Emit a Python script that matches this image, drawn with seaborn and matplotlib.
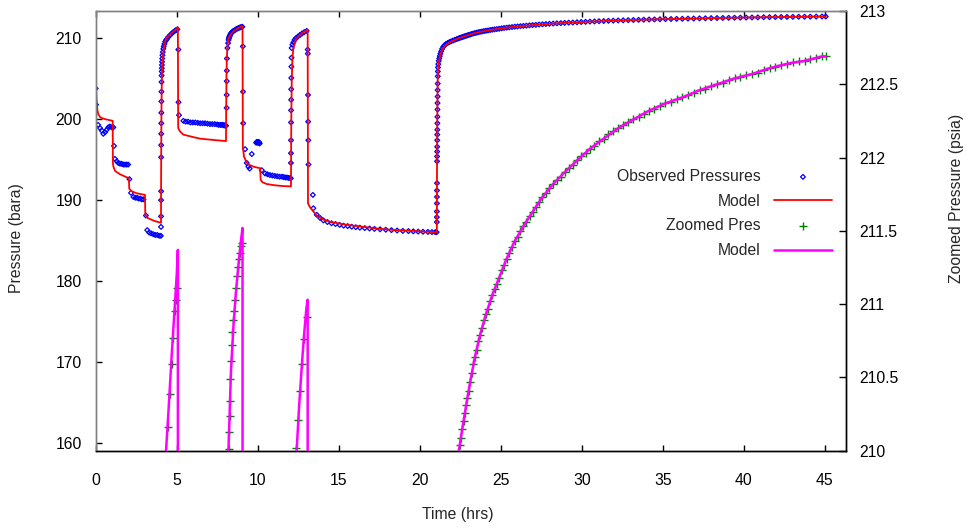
"""
Well test pressure history with zoomed late-time view
"""

import matplotlib
matplotlib.use("Agg")
import matplotlib.pyplot as plt
import seaborn as sns

sns.set_theme(style="ticks")
plt.rcParams["font.family"] = ["Liberation Sans", "DejaVu Sans"]

# ============================================================
# DATA
# ============================================================

# Observed pressures, one pair of lists per flow / shut-in period
obs_t1 = [0.00, 0.02, 0.15, 0.27, 0.37, 0.47, 0.58, 0.68, 0.78, 0.88,
          0.99, 1.09, 1.13, 1.19, 1.30, 1.40, 1.50, 1.60, 1.70, 1.80,
          1.90, 2.00, 2.08, 2.18, 2.33, 2.45, 2.55, 2.65, 2.75, 2.85,
          2.95, 3.10, 3.18, 3.30, 3.42, 3.55, 3.68, 3.80, 3.92, 4.02]
obs_p1 = [203.8, 201.8, 199.3, 198.9, 198.6, 198.2, 198.4, 198.7, 199.0, 199.1,
          199.0, 199.0, 196.7, 195.1, 194.8, 194.6, 194.5, 194.5, 194.4, 194.4,
          194.4, 194.4, 192.6, 190.9, 190.4, 190.3, 190.3, 190.2, 190.2, 190.1,
          190.1, 188.1, 186.3, 186.0, 185.9, 185.8, 185.7, 185.7, 185.6, 185.6]

obs_t2 = [4.030, 4.032, 4.034, 4.036, 4.038, 4.040, 4.043, 4.046, 4.050, 4.054,
          4.058, 4.063, 4.068, 4.074, 4.080, 4.087, 4.095, 4.105, 4.12, 4.14,
          4.17, 4.20, 4.24, 4.29, 4.35, 4.41, 4.48, 4.59, 4.69, 4.79,
          4.90, 4.97, 5.04]
obs_p2 = [186.7, 188.0, 190.0, 191.1, 195.3, 196.8, 198.2, 199.5, 200.8, 202.2,
          203.4, 204.6, 205.4, 205.9, 206.3, 206.7, 207.1, 207.5, 207.9, 208.3,
          208.7, 209.0, 209.3, 209.6, 209.8, 209.95, 210.16, 210.39, 210.59, 210.77,
          210.95, 211.03, 211.11]

obs_t3 = [5.10, 5.11, 5.14, 5.41, 5.55, 5.70, 5.85, 6.00, 6.15, 6.30,
          6.45, 6.60, 6.75, 6.90, 7.05, 7.20, 7.35, 7.50, 7.60, 7.70,
          7.78, 7.85, 7.90, 7.95, 8.00, 8.04]
obs_p3 = [208.6, 202.1, 200.5, 199.8, 199.7, 199.7, 199.6, 199.6, 199.6, 199.55,
          199.5, 199.5, 199.5, 199.45, 199.4, 199.4, 199.4, 199.35, 199.3, 199.3,
          199.3, 199.3, 199.25, 199.25, 199.2, 199.2]

obs_t4 = [8.080, 8.084, 8.088, 8.092, 8.097, 8.13, 8.17, 8.20, 8.22, 8.24,
          8.26, 8.28, 8.31, 8.35, 8.39, 8.44, 8.49, 8.54, 8.60, 8.66,
          8.73, 8.80, 8.86, 8.92, 8.99, 9.05]
obs_p4 = [201.4, 203.0, 204.7, 206.0, 207.5, 208.8, 209.4, 209.8, 210.01, 210.13,
          210.24, 210.34, 210.49, 210.61, 210.72, 210.81, 210.89, 210.95, 211.03, 211.11,
          211.19, 211.25, 211.31, 211.35, 211.40, 211.42]

obs_t5 = [9.08, 9.09, 9.10, 9.22, 9.32, 9.42, 9.50, 9.63, 9.90, 9.94,
          9.97, 10.00, 10.03, 10.06, 10.09, 10.12, 10.25, 10.45, 10.60, 10.75,
          10.90, 11.05, 11.20, 11.35, 11.50, 11.60, 11.70, 11.80, 11.90, 12.00,
          12.04]
obs_p5 = [209.0, 203.4, 199.5, 196.3, 194.6, 194.15, 193.9, 195.7, 197.1, 197.2,
          197.1, 197.2, 197.1, 197.2, 197.1, 197.0, 193.7, 193.3, 193.2, 193.1,
          193.05, 193.0, 192.95, 192.9, 192.9, 192.85, 192.8, 192.8, 192.75, 192.75,
          192.7]

obs_t6 = [12.045, 12.048, 12.051, 12.054, 12.057, 12.061, 12.065, 12.070, 12.076, 12.083,
          12.09, 12.14, 12.20, 12.27, 12.36, 12.48, 12.60, 12.73, 12.87, 13.02]
obs_p6 = [194.6, 195.8, 197.4, 199.6, 201.1, 202.4, 203.7, 205.1, 206.5, 207.6,
          208.8, 209.2, 209.5, 209.8, 210.02, 210.21, 210.41, 210.59, 210.76, 210.91]

obs_t7 = [13.08, 13.09, 13.10, 13.11, 13.12, 13.13, 13.40, 13.43, 13.64, 13.85,
          14.05, 14.30, 14.55, 14.80, 15.05, 15.30, 15.55, 15.80, 16.05, 16.30,
          16.60, 16.90, 17.20, 17.55, 17.90, 18.25, 18.60, 18.95, 19.30, 19.60,
          19.90, 20.20, 20.50, 20.75, 20.95, 21.04]
obs_p7 = [208.6, 208.1, 203.0, 199.7, 197.4, 194.4, 190.65, 189.0, 188.2, 187.8,
          187.5, 187.3, 187.15, 187.05, 186.95, 186.85, 186.8, 186.72, 186.66, 186.6,
          186.55, 186.5, 186.45, 186.4, 186.35, 186.3, 186.25, 186.2, 186.18, 186.15,
          186.12, 186.1, 186.08, 186.06, 186.05, 186.05]

obs_t8 = [21.050, 21.052, 21.054, 21.056, 21.058, 21.060, 21.062, 21.064, 21.067, 21.070,
          21.073, 21.076, 21.079, 21.082, 21.085, 21.088, 21.091, 21.094, 21.098, 21.102,
          21.106, 21.110, 21.115, 21.12, 21.14, 21.17, 21.20, 21.23, 21.27, 21.32,
          21.38, 21.45, 21.53, 21.62, 21.72, 21.82, 21.93, 22.05, 22.17, 22.28,
          22.38]
obs_p8 = [187.3, 187.9, 188.6, 189.6, 190.4, 191.2, 192.1, 194.8, 195.4, 196.0,
          196.6, 197.4, 198.1, 198.7, 199.5, 200.3, 201.2, 202.0, 202.8, 203.6,
          204.4, 205.3, 205.9, 206.4, 206.8, 207.2, 207.5, 207.8, 208.1, 208.4,
          208.7, 208.95, 209.15, 209.3, 209.42, 209.52, 209.62, 209.72, 209.82, 209.90,
          209.98]

obs_t9 = [22.46, 22.54, 22.62, 22.70, 22.78, 22.86, 22.94, 23.02, 23.11, 23.20,
          23.30, 23.40, 23.50, 23.61, 23.72, 23.84, 23.96, 24.08, 24.21, 24.34,
          24.47, 24.61, 24.75, 24.90, 25.05, 25.20, 25.36, 25.52, 25.69, 25.86,
          26.03, 26.21, 26.39, 26.58, 26.77, 26.96, 27.16, 27.36, 27.57, 27.78,
          28.00, 28.23, 28.46, 28.70, 28.94, 29.19, 29.44, 29.70, 29.96, 30.23,
          30.50, 30.78, 31.06, 31.35, 31.64, 31.94, 32.24, 32.55, 32.86, 33.18,
          33.50, 33.82, 34.15, 34.48, 34.82, 35.16, 35.50, 35.85, 36.20, 36.55,
          36.90, 37.26, 37.62, 37.98, 38.34, 38.70, 39.06, 39.42, 39.78, 40.14,
          40.50, 40.86, 41.22, 41.58, 41.94, 42.30, 42.66, 43.02, 43.38, 43.74,
          44.10, 44.46, 44.82, 45.05]
obs_p9 = [210.04, 210.09, 210.15, 210.20, 210.26, 210.31, 210.36, 210.41, 210.47, 210.53,
          210.59, 210.64, 210.69, 210.75, 210.79, 210.84, 210.89, 210.93, 210.97, 211.02,
          211.06, 211.10, 211.14, 211.18, 211.23, 211.27, 211.31, 211.35, 211.39, 211.43,
          211.46, 211.50, 211.53, 211.56, 211.60, 211.63, 211.66, 211.70, 211.73, 211.76,
          211.79, 211.82, 211.85, 211.87, 211.90, 211.93, 211.95, 211.98, 212.01, 212.03,
          212.06, 212.08, 212.11, 212.13, 212.16, 212.18, 212.20, 212.22, 212.24, 212.26,
          212.28, 212.30, 212.32, 212.33, 212.35, 212.37, 212.38, 212.40, 212.41, 212.43,
          212.44, 212.46, 212.47, 212.49, 212.50, 212.51, 212.53, 212.54, 212.55, 212.56,
          212.57, 212.58, 212.60, 212.61, 212.62, 212.63, 212.64, 212.65, 212.66, 212.66,
          212.67, 212.68, 212.69, 212.69]

# Model response
mod_t1 = [0.00, 0.02, 0.05, 0.10, 0.16, 0.30, 0.60, 1.05, 1.06, 1.10,
          1.20, 1.50, 2.05, 2.07, 2.22, 2.53, 3.04, 3.06, 3.20, 3.60, 4.03]
mod_p1 = [206.0, 204.0, 202.5, 201.2, 200.6, 200.2, 200.0, 199.8, 194.6, 194.1,
          193.6, 193.2, 192.7, 191.4, 191.1, 190.85, 190.65, 188.2, 187.8, 187.45, 187.2]

mod_t2 = [4.04, 4.06, 4.08, 4.10, 4.13, 4.17, 4.25, 4.34, 4.48, 4.60, 4.70, 4.80, 4.90, 5.00, 5.07]
mod_p2 = [195.0, 201.5, 204.8, 206.3, 207.3, 208.2, 209.3, 210.0, 210.25, 210.48,
          210.67, 210.85, 211.02, 211.20, 211.37]

mod_t3 = [5.09, 5.20, 5.41, 6.00, 6.44, 7.20, 8.04]
mod_p3 = [198.9, 198.5, 198.1, 197.8, 197.6, 197.45, 197.3]

mod_t4 = [8.05, 8.07, 8.09, 8.11, 8.14, 8.19, 8.25, 8.35, 8.50, 8.65, 8.80, 8.95, 9.06]
mod_p4 = [201.0, 205.5, 207.3, 208.3, 209.2, 210.0, 210.2, 210.55, 210.85, 211.08,
          211.26, 211.42, 211.52]

mod_t5 = [9.08, 9.15, 9.30, 9.42, 9.80, 10.15, 10.18, 10.30, 10.55, 11.00, 11.50, 12.05]
mod_p5 = [196.6, 195.4, 194.7, 194.4, 194.1, 193.95, 192.5, 192.2, 192.0, 191.85, 191.75, 191.7]

mod_t6 = [12.07, 12.10, 12.15, 12.20, 12.30, 12.40, 12.55, 12.70, 12.85, 13.00, 13.08]
mod_p6 = [200.0, 205.0, 207.8, 208.8, 209.5, 210.0, 210.3, 210.55, 210.78, 210.97, 211.03]

mod_t7 = [13.10, 13.20, 13.43, 13.70, 14.05, 14.50, 15.50, 16.50, 17.55, 18.50, 19.60, 20.30, 21.05]
mod_p7 = [189.6, 189.2, 188.6, 188.0, 187.6, 187.3, 186.95, 186.7, 186.45, 186.3, 186.2, 186.1, 186.05]

mod_t8 = [21.06, 21.08, 21.10, 21.12, 21.15, 21.20, 21.25, 21.30, 21.38, 21.46,
          21.55, 21.65, 21.75, 21.87, 22.00, 22.12, 22.25, 22.38, 22.62, 22.86,
          23.11, 23.40, 23.72, 24.08, 24.47, 24.90, 25.36, 25.86, 26.39, 26.96,
          27.57, 28.23, 28.94, 29.70, 30.50, 31.35, 32.24, 33.18, 34.15, 35.16,
          36.20, 37.26, 38.34, 39.42, 40.50, 41.58, 42.66, 43.74, 44.82, 45.05]
mod_p8 = [193.0, 200.0, 204.5, 205.8, 206.6, 207.3, 207.8, 208.15, 208.5, 208.8,
          209.0, 209.2, 209.35, 209.5, 209.65, 209.76, 209.87, 209.98, 210.15, 210.31,
          210.47, 210.64, 210.79, 210.93, 211.06, 211.18, 211.31, 211.43, 211.53, 211.63,
          211.73, 211.82, 211.90, 211.98, 212.06, 212.13, 212.20, 212.26, 212.32, 212.37,
          212.41, 212.46, 212.50, 212.54, 212.57, 212.61, 212.64, 212.66, 212.69, 212.69]

X_TICKS = [0, 5, 10, 15, 20, 25, 30, 35, 40, 45]
Y_TICKS = [160, 170, 180, 190, 200, 210]
Y2_TICKS = [210, 210.5, 211, 211.5, 212, 212.5, 213]

obs_time = obs_t1 + obs_t2 + obs_t3 + obs_t4 + obs_t5 + obs_t6 + obs_t7 + obs_t8 + obs_t9
obs_pres = obs_p1 + obs_p2 + obs_p3 + obs_p4 + obs_p5 + obs_p6 + obs_p7 + obs_p8 + obs_p9
mod_time = mod_t1 + mod_t2 + mod_t3 + mod_t4 + mod_t5 + mod_t6 + mod_t7 + mod_t8
mod_pres = mod_p1 + mod_p2 + mod_p3 + mod_p4 + mod_p5 + mod_p6 + mod_p7 + mod_p8

# ============================================================
# Plot
# ============================================================

W, H = 970, 528
FS = 11.3

fig = plt.figure(figsize=(W / 100, H / 100), dpi=100)
ax = fig.add_axes([95.7 / W, 77.3 / H, (846 - 95.7) / W, (450.7 - 11) / H])
ax2 = ax.twinx()

sns.scatterplot(x=obs_time, y=obs_pres, ax=ax, marker="D", s=6,
                facecolor="none", edgecolor="#0000ff", linewidth=0.9,
                label="Observed Pressures", legend=False, zorder=2)
sns.lineplot(x=mod_time, y=mod_pres, ax=ax, sort=False, estimator=None,
             color="#ff0000", linewidth=1.3, label="Model", legend=False, zorder=3)

sns.scatterplot(x=obs_time, y=obs_pres, ax=ax2, marker="+", s=26,
                color="#008000", linewidth=1.0, label="Zoomed Pres", legend=False, zorder=2)
sns.lineplot(x=mod_time, y=mod_pres, ax=ax2, sort=False, estimator=None,
             color="#ff00ff", linewidth=1.8, label="Model", legend=False, zorder=3)

ax.set_xlim(0, 46.3)
ax.set_ylim(159.05, 213.37)
ax2.set_ylim(210, 213)

ax.set_xticks(X_TICKS)
ax.set_yticks(Y_TICKS)
ax2.set_yticks(Y2_TICKS)
ax2.set_yticklabels([f"{v:g}" for v in Y2_TICKS])

ax.set_xlabel("")
ax.set_ylabel("")
ax2.set_ylabel("")

ax.tick_params(axis="x", direction="in", length=4, width=1, top=True, bottom=True,
               pad=16, labelsize=FS, colors="black")
ax.tick_params(axis="y", direction="in", length=4, width=1, left=True, right=False,
               pad=10, labelsize=FS, colors="black")
ax2.tick_params(axis="y", direction="in", length=5, width=1, right=True, left=False,
                pad=9.4, labelsize=FS, colors="black")

for a in (ax, ax2):
    for side in ("left", "top"):
        a.spines[side].set_color("#808080")
    for side in ("right", "bottom"):
        a.spines[side].set_color("black")
    for s in a.spines.values():
        s.set_linewidth(1.0)

# legend: labels right aligned, samples on the right
h1, l1 = ax.get_legend_handles_labels()
h2, l2 = ax2.get_legend_handles_labels()
leg = ax2.legend(h1 + h2, l1 + l2, loc="upper right",
                 bbox_to_anchor=(832 / W, 1 - 169 / H), bbox_transform=fig.transFigure,
                 frameon=False, markerfirst=False, handlelength=3.7, handletextpad=0.85,
                 labelspacing=0.62, borderpad=0, borderaxespad=0, scatterpoints=1,
                 fontsize=FS)
for col in leg._legend_handle_box.get_children():
    col.align = "right"

fig.text(457.5 / W, 1 - 515 / H, "Time (hrs)", ha="center", va="center", fontsize=FS)
fig.text(16.7 / W, 1 - 238 / H, "Pressure (bara)", ha="center", va="center",
         rotation=90, fontsize=FS)
fig.text(956.7 / W, 1 - 198 / H, "Zoomed Pressure (psia)", ha="center", va="center",
         rotation=90, fontsize=FS)

fig.savefig("out.png", dpi=100)
